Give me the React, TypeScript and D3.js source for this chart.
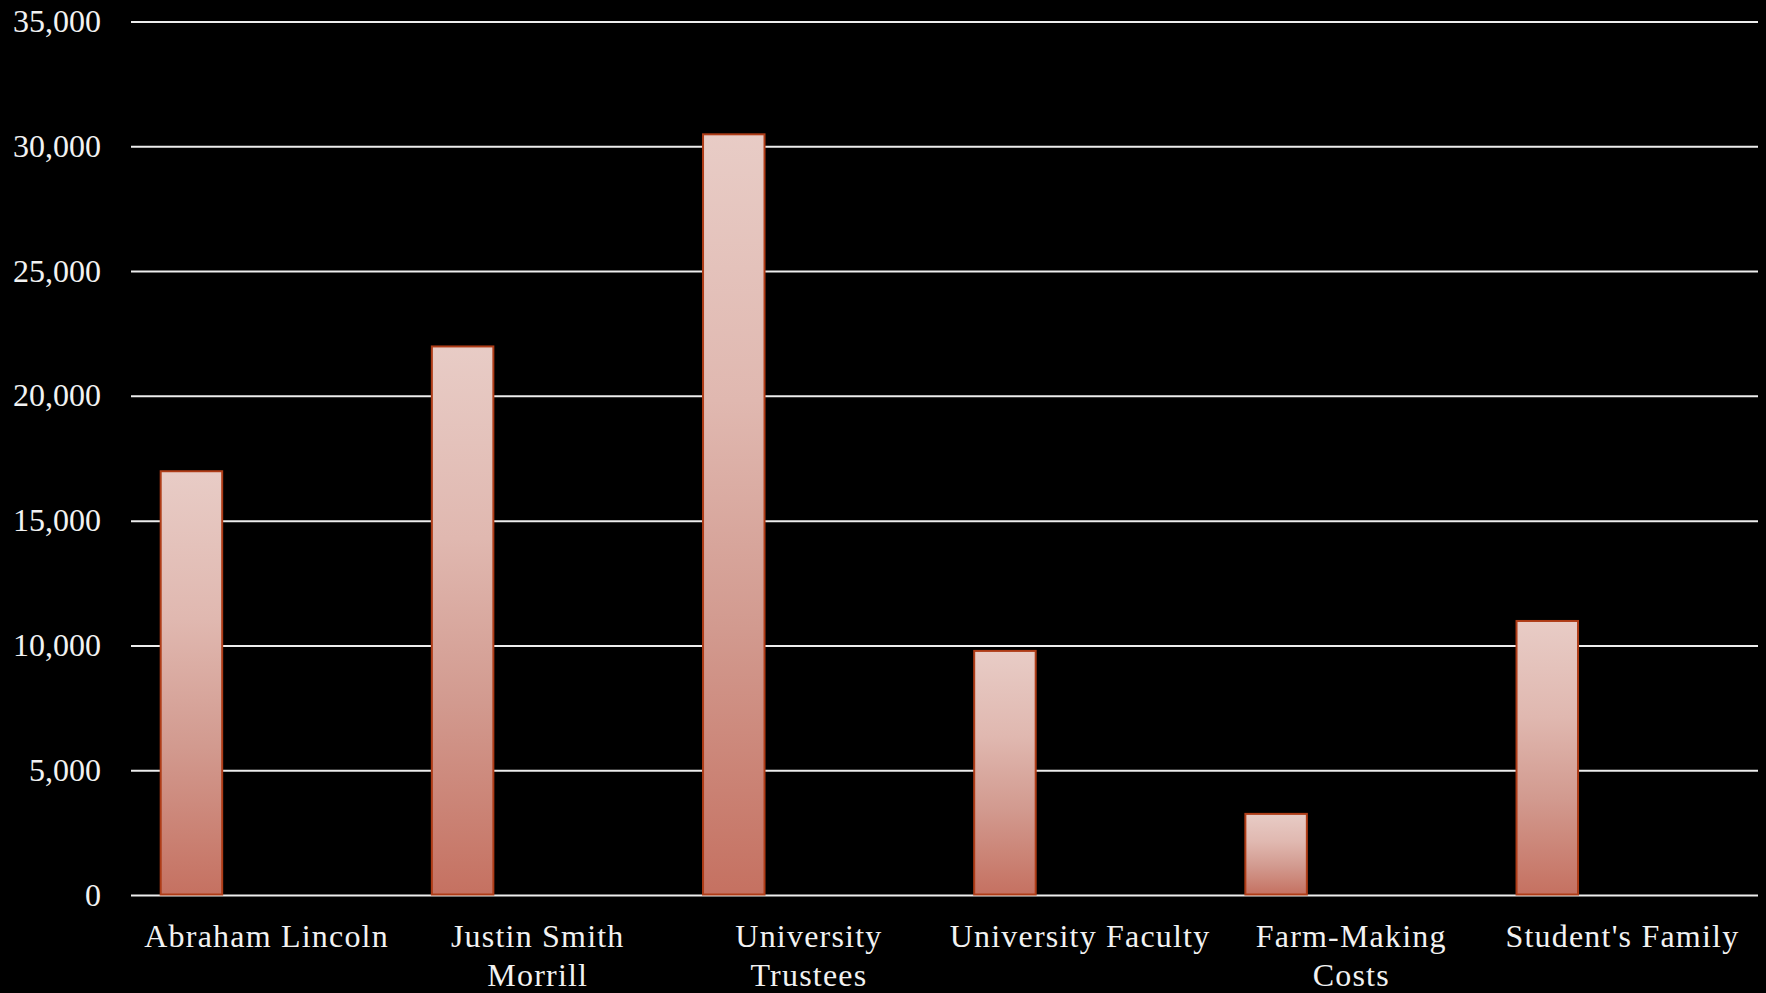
import React from "react";
import * as d3 from "d3";

const categories = [
  "Abraham Lincoln",
  "Justin Smith Morrill",
  "University Trustees",
  "University Faculty",
  "Farm-Making Costs",
  "Student's Family",
];
const values = [17000, 22000, 30500, 9800, 3270, 11000];
const yTicks = [0, 5000, 10000, 15000, 20000, 25000, 30000, 35000];

const W = 1766;
const H = 993;
const plotLeft = 131;
const plotRight = 1758;
const plotTop = 22;
const plotBottom = 895.5;

const FONT = "'Liberation Serif', 'Times New Roman', serif";
const FONT_SIZE = 32;
const LETTER_SPACING = 1.2;

// Split a label into lines that fit inside the category band
function wrapLabel(text: string, maxWidth: number): string[] {
  const canvas = document.createElement("canvas");
  const ctx = canvas.getContext("2d");
  const measure = (s: string) => {
    if (!ctx) return s.length * FONT_SIZE * 0.5;
    ctx.font = `${FONT_SIZE}px ${FONT}`;
    return ctx.measureText(s).width + LETTER_SPACING * s.length;
  };
  const words = text.split(" ");
  const lines: string[] = [];
  let current = "";
  for (const w of words) {
    const trial = current ? current + " " + w : w;
    if (current && measure(trial) > maxWidth) {
      lines.push(current);
      current = w;
    } else {
      current = trial;
    }
  }
  if (current) lines.push(current);
  return lines;
}

export default function App() {
  const x = d3
    .scaleBand<string>()
    .domain(categories)
    .range([plotLeft, plotRight])
    .paddingInner(0)
    .paddingOuter(0);
  const y = d3.scaleLinear().domain([0, 35000]).range([plotBottom, plotTop]);
  const fmt = d3.format(",");

  const bw = x.bandwidth();
  const barOffset = bw * 0.1095;
  const barWidth = bw * 0.2268;

  return (
    <svg
      width={W}
      height={H}
      style={{ position: "absolute", left: 0, top: 0, display: "block", background: "#000" }}
    >
      <defs>
        <linearGradient id="barFill" x1="0" y1="0" x2="0" y2="1">
          <stop offset="0" stopColor="#E8CCC6" />
          <stop offset="0.35" stopColor="#E0B8B0" />
          <stop offset="0.65" stopColor="#D29A8F" />
          <stop offset="1" stopColor="#C57161" />
        </linearGradient>
      </defs>
      <rect x={0} y={0} width={W} height={H} fill="#000" />

      {/* horizontal gridlines and y tick labels */}
      {yTicks.map((t) => (
        <g key={t}>
          <line
            x1={plotLeft}
            x2={plotRight}
            y1={y(t)}
            y2={y(t)}
            stroke="#EDEDED"
            strokeWidth={2}
          />
          <text
            x={101}
            y={y(t) + 10}
            textAnchor="end"
            fill="#F2F2F2"
            fontFamily={FONT}
            fontSize={FONT_SIZE}
          >
            {fmt(t)}
          </text>
        </g>
      ))}

      {/* bars */}
      {categories.map((c, i) => (
        <rect
          key={c}
          x={(x(c) as number) + barOffset}
          y={y(values[i])}
          width={barWidth}
          height={y(0) - y(values[i]) - 1}
          fill="url(#barFill)"
          stroke="#AE3C17"
          strokeWidth={2}
        />
      ))}

      {/* category labels */}
      {categories.map((c) => {
        const lines = wrapLabel(c, bw - 6);
        const cx = (x(c) as number) + bw / 2;
        return (
          <text
            key={c}
            x={cx}
            y={946.5}
            textAnchor="middle"
            fill="#F2F2F2"
            fontFamily={FONT}
            fontSize={FONT_SIZE}
            letterSpacing={LETTER_SPACING}
          >
            {lines.map((ln, j) => (
              <tspan key={j} x={cx} dy={j === 0 ? 0 : 39}>
                {ln}
              </tspan>
            ))}
          </text>
        );
      })}
    </svg>
  );
}
